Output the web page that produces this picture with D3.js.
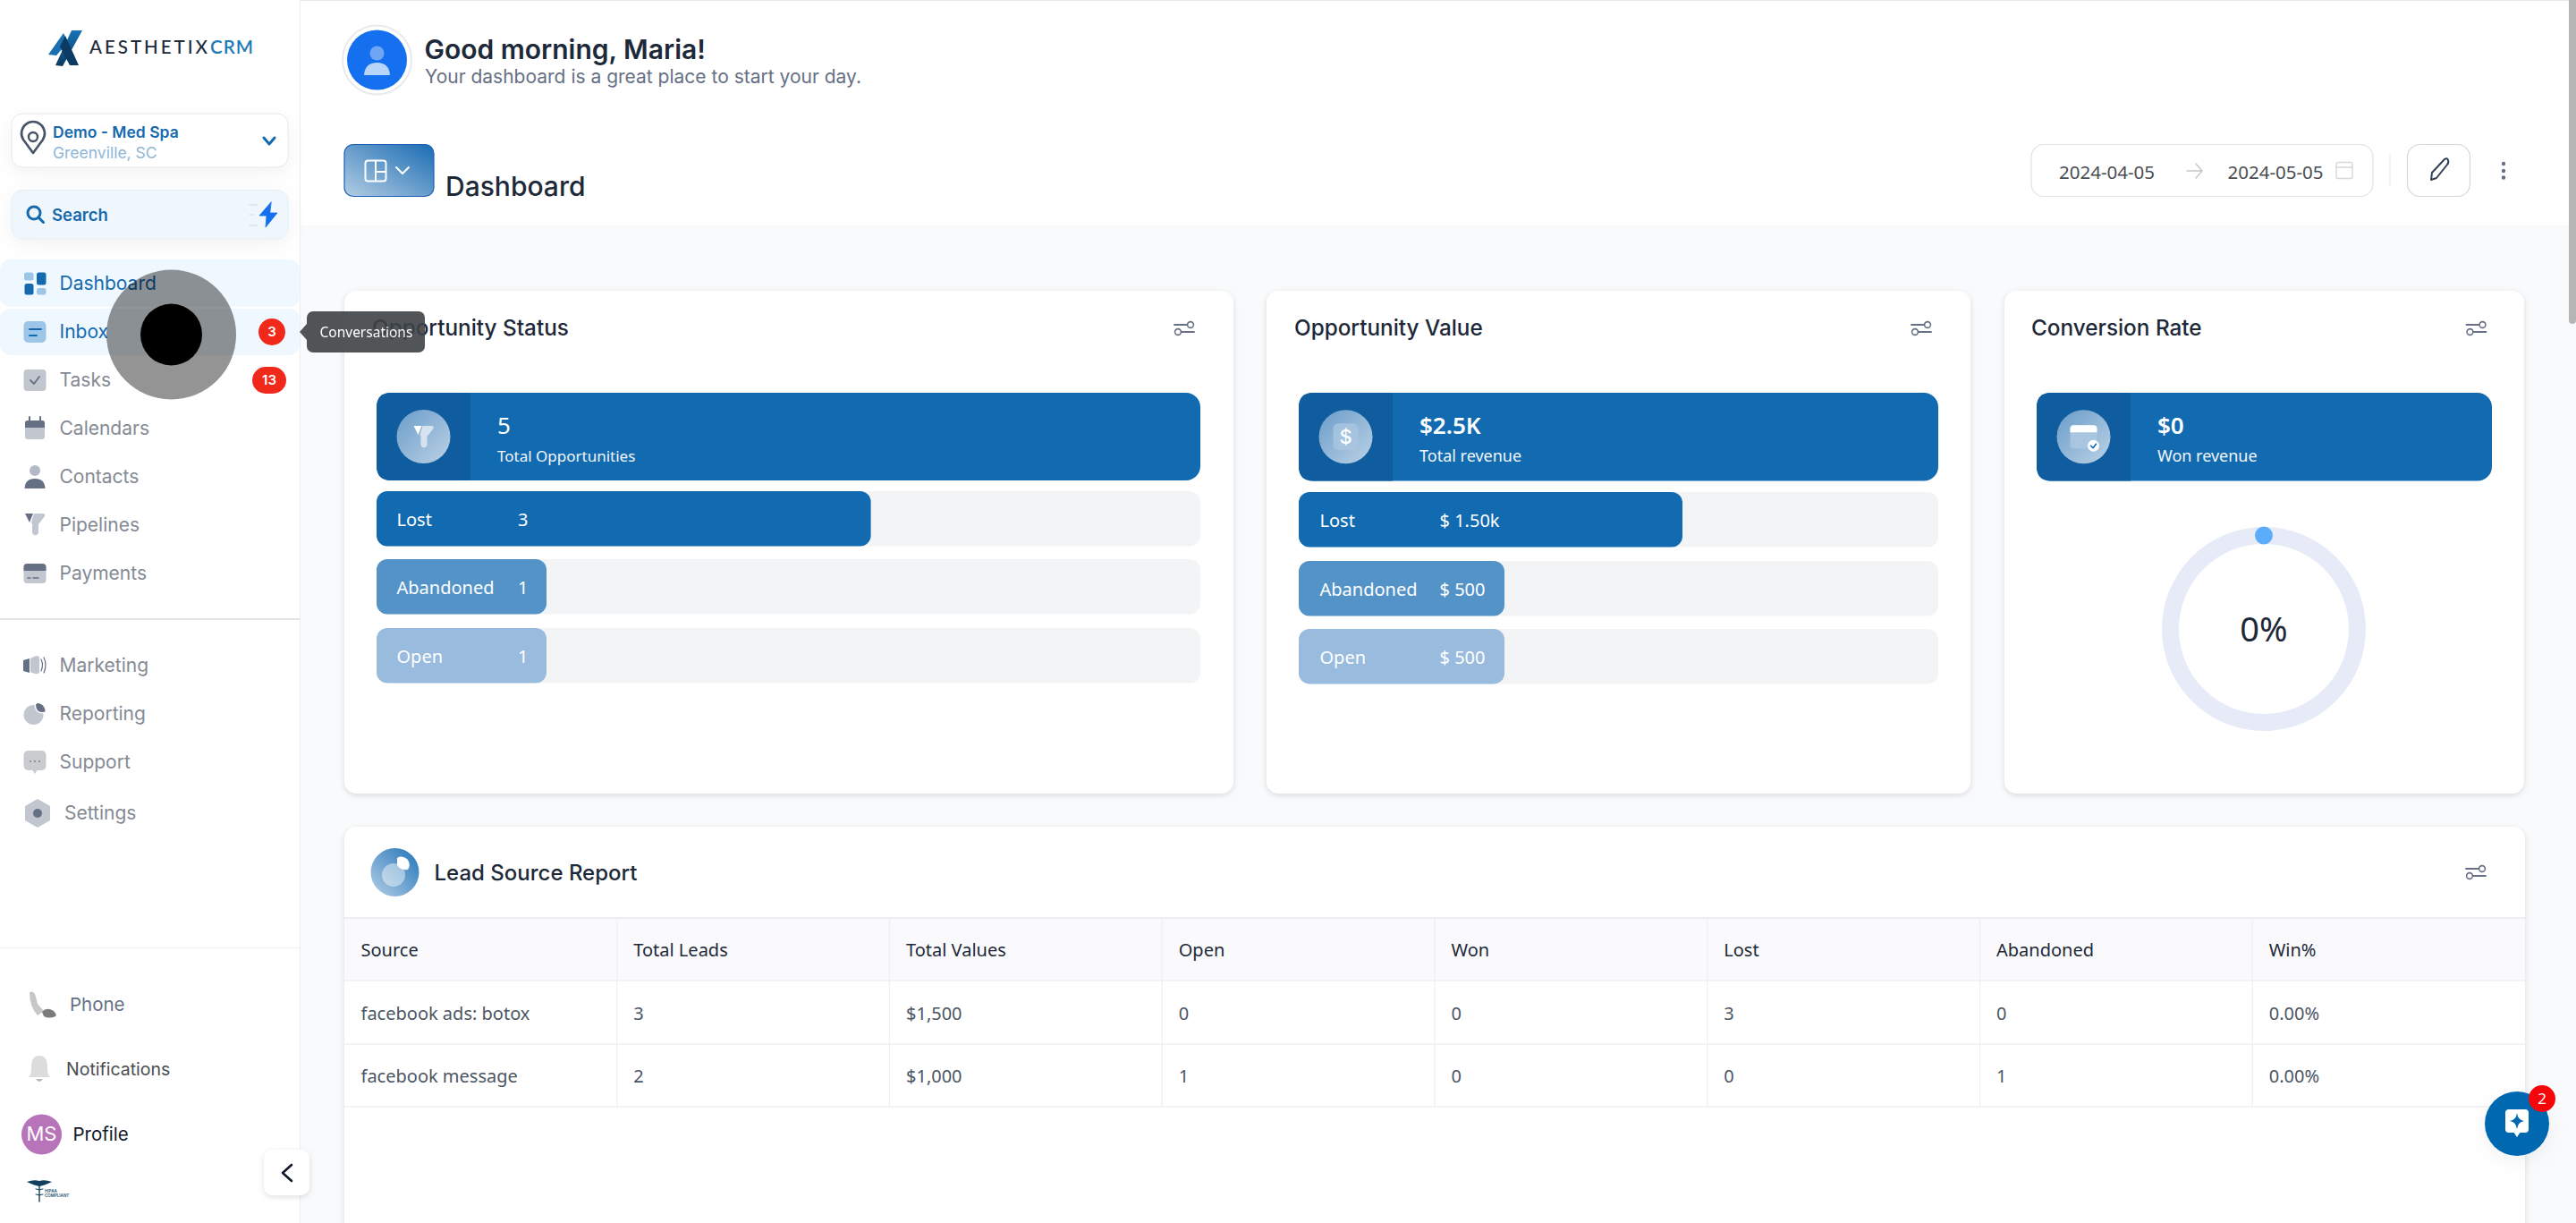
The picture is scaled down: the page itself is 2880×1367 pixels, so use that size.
<!DOCTYPE html>
<html>
<head>
<meta charset="utf-8">
<title>Dashboard</title>
<script src="https://cdn.jsdelivr.net/npm/d3@7"></script>
<style>
    html, body { margin: 0; padding: 0; background: #fff; overflow: hidden; }
    svg { display: block; }
    text { font-family: Inter, sans-serif; }
    .noto { font-family: "Noto Sans", sans-serif; }
</style>
</head>
<body>
<div class="container"></div>
<script>
// values
const navTop = ['Dashboard', 'Inbox', 'Tasks', 'Calendars', 'Contacts', 'Pipelines', 'Payments'];
const navBottom = ['Marketing', 'Reporting', 'Support'];
const navBadges = { Inbox: 3, Tasks: 13 };

const statusLabels = ['Lost', 'Abandoned', 'Open'];
const statusCounts = [3, 1, 1];
const statusTotal = 5;

const valueAmounts = [1500, 500, 500];
const valueTotal = 2500;
const valueText = ['$ 1.50k', '$ 500', '$ 500'];

const conversionRate = 0;

const tableColumns = ['Source', 'Total Leads', 'Total Values', 'Open', 'Won', 'Lost', 'Abandoned', 'Win%'];
const tableSources = ['facebook ads: botox', 'facebook message'];
const tableLeads = [3, 2];
const tableValues = [1500, 1000];
const tableOpen = [0, 1];
const tableWon = [0, 0];
const tableLost = [3, 0];
const tableAbandoned = [0, 1];
const tableWin = [0, 0];

const WIDTH = 2880;
const HEIGHT = 1367;
const BLUE = '#126bb1';
const BAR_COLORS = ['#126bb1', '#5493c8', '#99bcde'];
const GRAY_LIGHT = '#c1c6cf';
const GRAY_DARK = '#667085';

const svg = d3.select('.container').append('svg')
    .attr('width', WIDTH)
    .attr('height', HEIGHT);

const defs = svg.append('defs');

var addGradient = function (id, x1, y1, x2, y2, from, to) {
    var g = defs.append('linearGradient').attr('id', id)
        .attr('x1', x1).attr('y1', y1).attr('x2', x2).attr('y2', y2);
    g.append('stop').attr('offset', '0%').attr('stop-color', from);
    g.append('stop').attr('offset', '100%').attr('stop-color', to);
};
addGradient('btnGrad', 0, 1, 1, 0, '#b3cde3', '#1a6cb4');
addGradient('iconGrad', 0, 0, 1, 1, '#6a9cc9', '#bcd2e6');
addGradient('pieGrad', 1, 0, 0, 1, '#2274b8', '#b5cfe6');

var shadow = defs.append('filter').attr('id', 'soft')
    .attr('x', '-10%').attr('y', '-10%').attr('width', '120%').attr('height', '120%');
shadow.append('feDropShadow').attr('dx', 0).attr('dy', 2).attr('stdDeviation', 3)
    .attr('flood-color', '#101828').attr('flood-opacity', 0.13);

var softBig = defs.append('filter').attr('id', 'softBig')
    .attr('x', '-30%').attr('y', '-30%').attr('width', '160%').attr('height', '170%');
softBig.append('feDropShadow').attr('dx', 0).attr('dy', 6).attr('stdDeviation', 10)
    .attr('flood-color', '#101828').attr('flood-opacity', 0.05);

var rect = function (parent, x, y, w, h, r, fill) {
    return parent.append('rect')
        .attr('x', x).attr('y', y).attr('width', w).attr('height', h)
        .attr('rx', r).attr('fill', fill);
};

var label = function (parent, x, y, str, size, fill, weight, cls) {
    return parent.append('text')
        .attr('x', x).attr('y', y)
        .attr('dy', '0.36em')
        .attr('class', cls || null)
        .attr('font-size', size)
        .attr('font-weight', weight || 400)
        .attr('fill', fill)
        .text(str);
};

var path = function (parent, d, fill, stroke, sw) {
    return parent.append('path')
        .attr('d', d)
        .attr('fill', fill || 'none')
        .attr('stroke', stroke || 'none')
        .attr('stroke-width', sw || 0)
        .attr('stroke-linecap', 'round')
        .attr('stroke-linejoin', 'round');
};

// page backgrounds
rect(svg, 0, 0, WIDTH, HEIGHT, 0, '#fff');
rect(svg, 336, 252, WIDTH - 336, HEIGHT - 252, 0, '#f9fafb');
rect(svg, 336, 0, WIDTH - 336, 1, 0, '#e8eaed');

/* ---------- header ---------- */
var header = svg.append('g');
header.append('circle').attr('cx', 421.5).attr('cy', 67).attr('r', 38.5)
    .attr('fill', '#fff').attr('stroke', '#e9eaec').attr('stroke-width', 2);
header.append('circle').attr('cx', 421.5).attr('cy', 67).attr('r', 33.5).attr('fill', '#1570ef');
header.append('circle').attr('cx', 421.5).attr('cy', 59.5).attr('r', 8).attr('fill', '#6ea6f5');
path(header, 'M407 84 Q408 70 421.5 70 Q435 70 436 84 Z', '#b7d5f8');
label(header, 474.5, 55, 'Good morning, Maria!', 30, '#1d2939', 600);
label(header, 475, 85, 'Your dashboard is a great place to start your day.', 21, '#667085');

rect(header, 385, 161.5, 100, 58, 10, 'url(#btnGrad)')
    .attr('stroke', '#1b5fb5').attr('stroke-width', 1.2);
rect(header, 408.5, 179.5, 23, 23, 3, 'none').attr('stroke', '#fff').attr('stroke-width', 2);
path(header, 'M420 180 V202 M420 192 H431', null, '#fff', 2);
path(header, 'M443 187 L450 194 L457 187', null, '#fff', 2);
label(header, 498, 208.5, 'Dashboard', 30, '#1d2939', 500);

rect(header, 2271, 161.5, 382, 58, 14, '#fff').attr('stroke', '#e0e2e6').attr('stroke-width', 1.2);
label(header, 2302, 192.5, '2024-04-05', 20.5, '#4a4d52', 400, 'noto');
label(header, 2490.5, 192.5, '2024-05-05', 20.5, '#4a4d52', 400, 'noto');
path(header, 'M2445 191 H2462 M2455 183 L2462 191 L2455 199', null, '#c4c6c9', 1.4);
rect(header, 2612, 181.5, 18, 18, 2, 'none').attr('stroke', '#d6d8db').attr('stroke-width', 1.4);
path(header, 'M2612 187 H2630', null, '#d6d8db', 1.4);
path(header, 'M2672 172 V209', null, '#eceef0', 1.2);
rect(header, 2691.5, 161.5, 70, 58, 14, '#fff').attr('stroke', '#d4d7de').attr('stroke-width', 1.2);
path(header, 'M2718 201 L2719 193 L2733 178 Q2736 176 2737 179 Q2738 182 2736 184 L2724 199 Z', null, '#344054', 2);
[183, 191, 198.5].forEach(function (cy) {
    header.append('circle').attr('cx', 2799).attr('cy', cy).attr('r', 2.2).attr('fill', GRAY_DARK);
});

/* ---------- cards ---------- */
var sliders = function (parent, cx, cy) {
    var g = parent.append('g').attr('transform', `translate(${cx},${cy})`);
    path(g, 'M-11 -4 H3 M-3 4 H11', null, '#667085', 1.8);
    g.append('circle').attr('cx', 7).attr('cy', -4).attr('r', 3.4).attr('fill', '#fff').attr('stroke', '#667085').attr('stroke-width', 1.6);
    g.append('circle').attr('cx', -7).attr('cy', 4).attr('r', 3.4).attr('fill', '#fff').attr('stroke', '#667085').attr('stroke-width', 1.6);
};

var card = function (x, y, w, h, title, titleX) {
    var g = svg.append('g');
    rect(g, x, y, w, h, 14, '#fff').attr('filter', 'url(#soft)');
    g.append('text').attr('class', 'cardTitle')
        .attr('x', titleX).attr('y', 366.5).attr('dy', '0.36em')
        .attr('font-size', 24.3).attr('font-weight', 500).attr('fill', '#1d2939')
        .text(title);
    return g;
};

var funnelIcon = function (g, cx, cy, c1, c2) {
    var f = g.append('g').attr('transform', `translate(${cx},${cy})`);
    path(f, 'M-11 -12 H-2 L-6 -2 Z', c1);
    path(f, 'M-1 -12 H9 Q12 -12 11 -9 L4 0 V10 Q2 13 -1 12 Q-3 11 -3 9 V0 L-4 -2 Z', c2);
};
var dollarIcon = function (g, cx, cy) {
    rect(g, cx - 14, cy - 15, 28, 30, 6, '#a8c6e0').attr('opacity', 0.85);
    label(g, cx, cy, '$', 22, '#fff', 500).attr('text-anchor', 'middle');
};
var walletIcon = function (g, cx, cy) {
    rect(g, cx - 15, cy - 13, 30, 26, 4, '#a8c6e0');
    path(g, `M${cx - 15} ${cy - 5} V${cy - 9} Q${cx - 15} ${cy - 13} ${cx - 11} ${cy - 13} H${cx + 11} Q${cx + 15} ${cy - 13} ${cx + 15} ${cy - 9} V${cy - 5} Z`, '#fff');
    g.append('circle').attr('cx', cx + 11).attr('cy', cy + 10).attr('r', 6.5).attr('fill', '#fff');
    path(g, `M${cx + 8} ${cy + 10} L${cx + 10.5} ${cy + 12.5} L${cx + 14} ${cy + 8}`, null, BLUE, 1.6);
};

var summary = function (g, x, w, iconW, y, h, big, bigWeight, small, smallSize, icon) {
    rect(g, x, y, w, h, 16, BLUE);
    path(g, `M${x + iconW} ${y} H${x + 16} Q${x} ${y} ${x} ${y + 16} V${y + h - 16} Q${x} ${y + h} ${x + 16} ${y + h} H${x + iconW} Z`, '#0f5c9e');
    var cx = x + iconW / 2;
    var cy = y + h / 2;
    g.append('circle').attr('cx', cx).attr('cy', cy).attr('r', 30).attr('fill', 'url(#iconGrad)');
    icon(g, cx, cy);
    var tx = x + iconW + 30;
    label(g, tx, y + 37, big, 26, '#fff', bigWeight, 'noto');
    label(g, tx, y + 70.5, small, smallSize, '#f2f6fb', 400, 'noto');
};

var barRows = function (g, x, w, rowY, rowH, values, domainMax, minW, labels, valueLabels, labelX, valueX) {
    var xScale = d3.scaleLinear().domain([0, domainMax]).range([0, w]);
    var rows = g.selectAll('g.row').data(values).enter().append('g').attr('class', 'row');
    rows.append('rect')
        .attr('x', x).attr('y', (v, i) => rowY[i]).attr('width', w).attr('height', rowH)
        .attr('rx', 12).attr('fill', '#f3f4f6');
    rows.append('rect')
        .attr('x', x).attr('y', (v, i) => rowY[i])
        .attr('width', v => Math.max(xScale(v), minW)).attr('height', rowH)
        .attr('rx', 12).attr('fill', (v, i) => BAR_COLORS[i]);
    rows.append('text').attr('class', 'noto')
        .attr('x', labelX).attr('y', (v, i) => rowY[i] + rowH / 2 + 1).attr('dy', '0.36em')
        .attr('font-size', 20).attr('fill', '#fff').text((v, i) => labels[i]);
    rows.append('text').attr('class', 'noto')
        .attr('x', valueX).attr('y', (v, i) => rowY[i] + rowH / 2 + 1).attr('dy', '0.36em')
        .attr('font-size', 20).attr('fill', '#fff').text((v, i) => valueLabels[i]);
};

var c1 = card(385, 325, 994, 562, 'Opportunity Status', 416);
sliders(c1, 1324, 367);
summary(c1, 421, 921, 105, 439, 98, String(statusTotal), 400, 'Total Opportunities', 17,
    (g, cx, cy) => funnelIcon(g, cx, cy, '#fff', '#d5e3f0'));
barRows(c1, 421, 921, [549, 625, 702], 61.5, statusCounts, statusTotal, 190, statusLabels, statusCounts, 443.5, 579);

var c2 = card(1416, 325, 787, 562, 'Opportunity Value', 1447);
sliders(c2, 2148, 367);
summary(c2, 1452, 715, 105, 439, 98.5, '$' + d3.format('.2~s')(valueTotal).replace('k', 'K'), 600, 'Total revenue', 18, dollarIcon);
barRows(c2, 1452, 715, [550, 627, 703], 61.5, valueAmounts, valueTotal, 230, statusLabels, valueText, 1475.5, 1609.5);

var c3 = card(2241, 325, 581, 562, 'Conversion Rate', 2271);
sliders(c3, 2768.5, 367);
summary(c3, 2277, 509, 105, 439, 98.5, '$0', 600, 'Won revenue', 18, walletIcon);

// donut
var pie = c3.append('g').attr('transform', 'translate(2531,703)');
var arc = d3.arc().innerRadius(95).outerRadius(114);
var angle = d3.scaleLinear().domain([0, 100]).range([0, 2 * Math.PI]);
pie.append('path').attr('d', arc({ startAngle: 0, endAngle: 2 * Math.PI })).attr('fill', '#e6ebf7');
pie.append('circle')
    .attr('cx', 104.5 * Math.sin(angle(conversionRate)))
    .attr('cy', -104.5 * Math.cos(angle(conversionRate)))
    .attr('r', 10).attr('fill', '#5badfb');
label(pie, 0, 0, `${conversionRate}%`, 38, '#1d2939', 400, 'noto').attr('text-anchor', 'middle');

/* ---------- table ---------- */
var tableCard = svg.append('g');
rect(tableCard, 385, 924, 2438, 500, 14, '#fff').attr('filter', 'url(#soft)');
tableCard.append('circle').attr('cx', 441.5).attr('cy', 975).attr('r', 27).attr('fill', 'url(#pieGrad)');
tableCard.append('circle').attr('cx', 440).attr('cy', 978).attr('r', 13).attr('fill', '#fff').attr('opacity', 0.45);
path(tableCard, 'M444 959 A9 9 0 0 1 456 972 Q447 973 444 967 Z', '#fff');
label(tableCard, 485.5, 975, 'Lead Source Report', 24, '#1d2939', 500);
sliders(tableCard, 2768, 975);

var rowsData = tableSources.map((s, i) => [
    s,
    tableLeads[i],
    d3.format('$,')(tableValues[i]),
    tableOpen[i],
    tableWon[i],
    tableLost[i],
    tableAbandoned[i],
    d3.format('.2%')(tableWin[i])
]);
var colScale = d3.scaleBand().domain(tableColumns).range([385, 2823]);
var rowTops = [1096, 1167];
var rowHeight = [71, 70];

rect(tableCard, 385, 1026, 2438, 70, 0, '#fafafc');
[1026, 1096, 1167, 1237].forEach(function (y) {
    path(tableCard, `M385 ${y} H2823`, null, y === 1026 ? '#e7e8ea' : '#eeeff1', 1.4).attr('stroke-linecap', 'butt');
});
tableColumns.slice(1).forEach(function (c) {
    path(tableCard, `M${colScale(c)} 1026 V1237`, null, '#eeeff1', 1.2).attr('stroke-linecap', 'butt');
});
tableCard.selectAll('text.th').data(tableColumns).enter().append('text')
    .attr('class', 'th noto')
    .attr('x', c => colScale(c) + 18.5)
    .attr('y', 1062).attr('dy', '0.36em')
    .attr('font-size', 20).attr('fill', '#1d2939')
    .text(c => c);
rowsData.forEach(function (row, r) {
    tableCard.selectAll(`text.td${r}`).data(row).enter().append('text')
        .attr('class', `td${r} noto`)
        .attr('x', (v, i) => colScale(tableColumns[i]) + 18.5)
        .attr('y', rowTops[r] + rowHeight[r] / 2 + 1).attr('dy', '0.36em')
        .attr('font-size', 20).attr('fill', '#4b5563')
        .text(v => v);
});

/* ---------- sidebar ---------- */
var side = svg.append('g');
rect(side, 0, 0, 335, HEIGHT, 0, '#fff');
path(side, 'M335.5 0 V1367', null, '#eceef0', 1.2);

// logo
addGradient('logoGrad', 0, 0, 0, 1, '#1673b8', '#0b3a63');
path(side, 'M54 61 L71 37 L76 47 L63 62 Z', '#1a6fb0');
path(side, 'M92 34 H80 L62 73 L70 74 Z', 'url(#logoGrad)');
path(side, 'M73 40 L88 73 H78 L67 52 Z', '#0b3a63');
label(side, 100, 52.5, 'AESTHETIX', 20.5, '#1d2939', 500).style('font-family', 'Lato')
    .attr('textLength', 132).attr('lengthAdjust', 'spacing');
label(side, 235, 52.5, 'CRM', 20.5, '#1f7ab8', 600).style('font-family', 'Lato')
    .attr('textLength', 48).attr('lengthAdjust', 'spacing');

// location
rect(side, 13, 127, 309, 60, 12, '#fff').attr('stroke', '#e5e7eb').attr('stroke-width', 1).attr('filter', 'url(#softBig)');
path(side, 'M37 171 L26 156 A13 13 0 1 1 48 156 Z', 'none', '#475467', 2.6);
side.append('circle').attr('cx', 37).attr('cy', 153).attr('r', 5).attr('fill', 'none').attr('stroke', '#475467').attr('stroke-width', 2.4);
label(side, 59, 148, 'Demo - Med Spa', 17.5, '#1569ae', 600);
label(side, 59, 171, 'Greenville, SC', 17.5, '#8fb5d7');
path(side, 'M295 154 L301 161 L307 154', null, '#1569ae', 3);

// search
rect(side, 13, 212.5, 309, 54.5, 12, '#eff7fd').attr('stroke', '#e3eef7').attr('stroke-width', 1).attr('filter', 'url(#softBig)');
side.append('circle').attr('cx', 38).attr('cy', 238).attr('r', 7).attr('fill', 'none').attr('stroke', '#1569ae').attr('stroke-width', 3);
path(side, 'M43 243 L48.5 248.5', null, '#1569ae', 3);
label(side, 58, 240, 'Search', 18.5, '#1569ae', 600);
path(side, 'M303 226 L290 241 H298 L297 254 L310 238 H302 Z', '#1570ef', '#1570ef', 0.8);
path(side, 'M279 229 H288 M279 240 H284 M279 252 H288', null, '#dbe3ea', 1.4);

// nav highlight
rect(side, 0, 290, 335, 53, 12, '#eff8ff');
rect(side, 0, 345, 335, 52, 12, '#eff8ff');

var navY = d3.scalePoint().domain(navTop).range([316, 640]);
side.selectAll('text.nav').data(navTop).enter().append('text')
    .attr('class', 'nav')
    .attr('x', 66.5).attr('y', d => navY(d)).attr('dy', '0.36em')
    .attr('font-size', 21)
    .attr('fill', (d, i) => i < 2 ? '#1569ae' : '#848a94')
    .text(d => d);
var navY2 = d3.scalePoint().domain(navBottom).range([743, 851]);
side.selectAll('text.nav2').data(navBottom).enter().append('text')
    .attr('class', 'nav2')
    .attr('x', 66.5).attr('y', d => navY2(d)).attr('dy', '0.36em')
    .attr('font-size', 21).attr('fill', '#848a94')
    .text(d => d);
label(side, 72, 908, 'Settings', 21, '#848a94');
path(side, 'M0 692 H335', null, '#d9dbdf', 1.4).attr('stroke-linecap', 'butt');
path(side, 'M0 1059.5 H335', null, '#eef0f2', 1.2).attr('stroke-linecap', 'butt');

// nav icons
rect(side, 27, 304.5, 10.5, 9, 2.5, '#9cc5e8');
rect(side, 41, 304.5, 10.5, 14, 2.5, '#1569ae');
rect(side, 27.5, 317, 10, 12.5, 2.5, '#1569ae');
rect(side, 41, 322, 10.5, 7.5, 2.5, '#9cc5e8');
rect(side, 26.5, 359, 25, 24, 5, '#9cc5e8');
path(side, 'M33 368 H46 M33 375 H41', null, '#1569ae', 2);
rect(side, 26.5, 413, 25, 24, 4, GRAY_LIGHT);
path(side, 'M34 425 L38 429 L44 421', null, GRAY_DARK, 1.8);
rect(side, 28, 470, 22, 21, 3, GRAY_LIGHT);
path(side, 'M28 478 V473 Q28 470 31 470 H47 Q50 470 50 473 V478 Z', GRAY_DARK);
path(side, 'M33 466 V471 M45 466 V471', null, GRAY_DARK, 2);
side.append('circle').attr('cx', 39).attr('cy', 526).attr('r', 6).attr('fill', '#b4bac5');
path(side, 'M27.5 546 Q28 535 39 535 Q50 535 50.5 546 Z', GRAY_DARK);
funnelIcon(side, 39, 586, GRAY_DARK, GRAY_LIGHT);
rect(side, 26.5, 630, 25, 22, 4, GRAY_LIGHT);
path(side, 'M26.5 638 V634 Q26.5 630 30.5 630 H47.5 Q51.5 630 51.5 634 V638 Z', GRAY_DARK);
path(side, 'M31 646 H34 M37 646 H43', null, GRAY_DARK, 1.4);
// marketing
path(side, 'M33 736 L26 738 V750 L33 752 Z', GRAY_DARK);
path(side, 'M34 736 Q44 730 44 736 V750 Q44 756 34 751 Z', GRAY_LIGHT);
path(side, 'M46 737 Q49 743 46 750 M49 735 Q53 743 49 752', null, GRAY_DARK, 1.2);
// reporting
side.append('circle').attr('cx', 37.5).attr('cy', 799).attr('r', 11).attr('fill', GRAY_LIGHT);
path(side, 'M39.5 787 Q41 785 44 785.5 Q51 787 51.5 796 Q46 798 42 795 Q39 792 39.5 787 Z', GRAY_DARK, '#fff', 1.4);
// support
rect(side, 26.5, 839, 25, 22, 5, '#c9cbcf');
path(side, 'M36 860 L39 865 L42 860 Z', '#c9cbcf');
path(side, 'M34 851 H34.1 M39 851 H39.1 M44 851 H44.1', null, '#7d8188', 1.8);
// settings
path(side, 'M42 894 L55 901.5 V916.5 L42 924 L29 916.5 V901.5 Z', GRAY_LIGHT, GRAY_LIGHT, 2);
side.append('circle').attr('cx', 42).attr('cy', 909).attr('r', 5).attr('fill', GRAY_DARK);

// badges
side.append('circle').attr('cx', 304).attr('cy', 371).attr('r', 15).attr('fill', '#f0291b');
label(side, 304, 370.5, navBadges.Inbox, 15, '#fff', 600).attr('text-anchor', 'middle');
rect(side, 282, 410, 38, 30, 15, '#f0291b');
label(side, 301, 424.5, navBadges.Tasks, 15, '#fff', 600).attr('text-anchor', 'middle');

// bottom of the sidebar
path(side, 'M33 1109 Q38 1107 40 1114 L42 1122 Q47 1128 49 1130 L42 1135 Q33 1125 33 1109 Z', '#c7c7c7');
path(side, 'M47 1131 Q52 1125 60 1130 Q64 1134 62 1136 Q55 1139 49 1136 Z', '#7b7b7b');
label(side, 78, 1122.5, 'Phone', 20.5, GRAY_DARK);
path(side, 'M44 1180 Q53 1180 53 1193 Q53 1201 56 1204 H32 Q35 1201 35 1193 Q35 1180 44 1180 Z', '#dcdcdc');
path(side, 'M40 1206 H48 Q46 1209 44 1209 Q42 1209 40 1206 Z', '#b9b9b9');
label(side, 74, 1194.5, 'Notifications', 19.5, '#4a4d52');
side.append('circle').attr('cx', 46.5).attr('cy', 1268).attr('r', 22.5).attr('fill', '#b874b9');
label(side, 46.5, 1267.5, 'MS', 22, '#fff').attr('text-anchor', 'middle');
label(side, 81.5, 1267.5, 'Profile', 20.5, '#101828');

// hipaa mark
path(side, 'M30 1321 Q38 1318 44 1320 Q50 1318 58 1321 Q50 1325 44 1326 Q38 1325 30 1321 Z', '#123f5e');
path(side, 'M44 1322 V1343', null, '#123f5e', 1.4);
path(side, 'M40 1329 Q44 1331 48 1329 M40 1335 Q44 1337 48 1335', null, '#123f5e', 1);
label(side, 50, 1331, 'HIPAA', 4.5, '#20506f', 600);
label(side, 50, 1336, 'COMPLIANT', 4.5, '#20506f', 600);

// collapse button
rect(svg, 295, 1285, 51, 51, 10, '#fff').attr('filter', 'url(#soft)');
path(svg, 'M326 1302 L316 1311 L326 1320', null, '#101828', 2.6);

/* ---------- overlays ---------- */
svg.append('circle').attr('cx', 191.5).attr('cy', 374).attr('r', 72.5).attr('fill', '#000').attr('opacity', 0.42);
svg.append('circle').attr('cx', 191.5).attr('cy', 374).attr('r', 34.5).attr('fill', '#000');

var tip = svg.append('g').attr('opacity', 0.9);
path(tip, 'M335 371 L343 362 V380 Z', '#3f4346');
rect(tip, 343, 348, 132, 46, 7, '#3f4346');
label(tip, 357.5, 371.5, 'Conversations', 15.5, '#fff', 400, 'noto');

// chat button
rect(svg, 2778, 1220, 72, 72, 36, '#0368b0').attr('filter', 'url(#softBig)');
rect(svg, 2801, 1240, 26, 26, 4, '#fff');
path(svg, 'M2810 1265 L2814 1271 L2818 1265 Z', '#fff');
path(svg, 'M2814 1244 Q2815 1252 2822 1253 Q2815 1254 2814 1262 Q2813 1254 2806 1253 Q2813 1252 2814 1244 Z', '#0368b0');
svg.append('circle').attr('cx', 2842).attr('cy', 1228).attr('r', 15).attr('fill', '#f5060b');
label(svg, 2842, 1228, '2', 17, '#fff', 400, 'noto').attr('text-anchor', 'middle');

// scrollbar
rect(svg, 2872, -10, 8, 372, 4, '#b5b5b5');
</script>
</body>
</html>
